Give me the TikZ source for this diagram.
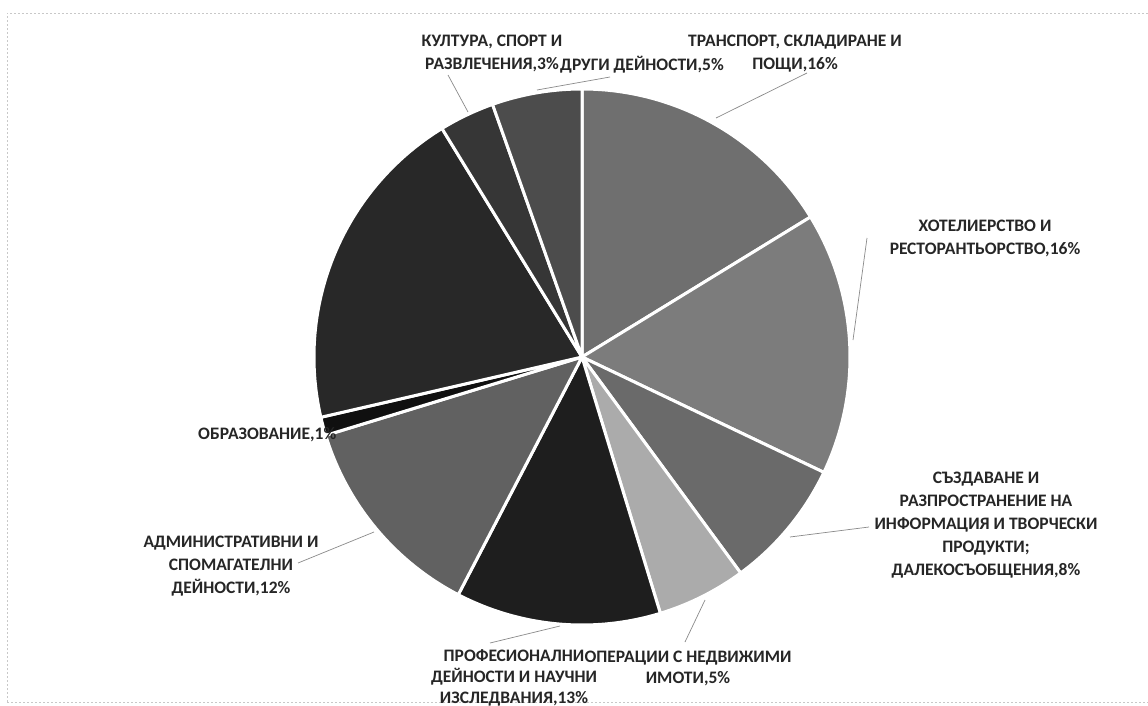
\documentclass[tikz,border=0pt]{standalone}
\usepackage{fontspec}
\setmainfont{Carlito}
\definecolor{cTrans}{HTML}{6F6F6F}
\definecolor{cHotel}{HTML}{7C7C7C}
\definecolor{cSazd}{HTML}{6A6A6A}
\definecolor{cOper}{HTML}{ABABAB}
\definecolor{cProf}{HTML}{1E1E1E}
\definecolor{cAdmin}{HTML}{616161}
\definecolor{cObraz}{HTML}{101010}
\definecolor{cBig}{HTML}{282828}
\definecolor{cKult}{HTML}{363636}
\definecolor{cDrugi}{HTML}{4C4C4C}
\definecolor{cText}{HTML}{262626}
\definecolor{cLead}{HTML}{8A8A8A}
\definecolor{cFrame}{HTML}{C8C8C8}
\tikzset{
  slicestyle/.style={draw=white,line width=3,line join=round},
  lbl/.style={inner sep=0pt,align=center,text=cText,font=\fontsize{17.5}{23}\selectfont\bfseries},
  lbltight/.style={lbl,font=\fontsize{17.5}{21}\selectfont\bfseries},
  leader/.style={draw=cLead,line width=0.7},
  framestyle/.style={draw=cFrame,line width=0.6,dash pattern=on 2pt off 2pt}
}
\newcommand\pieslice[3]{\filldraw[slicestyle,fill=#3] (C) -- ++(#1:268) arc[start angle=#1, end angle=#2, radius=268] -- cycle;}
\begin{document}
\begin{tikzpicture}[x=1pt,y=-1pt]
\useasboundingbox (0,0) rectangle (1148,706);
\fill[white] (0,0) rectangle (1148,706);
% faint frame
\draw[framestyle] (7,702) -- (7,13) -- (1148,13);
\draw[framestyle] (7,702) -- (1148,702);
% pie
\coordinate (C) at (582,357);
\pieslice{-90}{-31.5}{cTrans}
\pieslice{-31.5}{25.5}{cHotel}
\pieslice{25.5}{53.7}{cSazd}
\pieslice{53.7}{73}{cOper}
\pieslice{73}{117.5}{cProf}
\pieslice{117.5}{163}{cAdmin}
\pieslice{163}{167}{cObraz}
\pieslice{167}{238.5}{cBig}
\pieslice{238.5}{250.5}{cKult}
\pieslice{250.5}{270}{cDrugi}
% labels
\node[lbl] (kult) at (492,53.5) {КУЛТУРА, СПОРТ И\\РАЗВЛЕЧЕНИЯ,3\%};
\node[lbl] (drugi) at (642,65) {ДРУГИ ДЕЙНОСТИ,5\%};
\node[lbl] (trans) at (795,53.5) {ТРАНСПОРТ, СКЛАДИРАНЕ И\\ПОЩИ,16\%};
\node[lbl] (hotel) at (985,238) {ХОТЕЛИЕРСТВО И\\РЕСТОРАНТЬОРСТВО,16\%};
\node[lbl] (sazd) at (986,525) {СЪЗДАВАНЕ И\\РАЗПРОСТРАНЕНИЕ НА\\ИНФОРМАЦИЯ И ТВОРЧЕСКИ\\ПРОДУКТИ;\\ДАЛЕКОСЪОБЩЕНИЯ,8\%};
\node[lbltight] (oper) at (688,668.5) {ОПЕРАЦИИ С НЕДВИЖИМИ\\ИМОТИ,5\%};
\node[lbltight] (prof) at (514,677.5) {ПРОФЕСИОНАЛНИ\\ДЕЙНОСТИ И НАУЧНИ\\ИЗСЛЕДВАНИЯ,13\%};
\node[lbl] (admin) at (231,566) {АДМИНИСТРАТИВНИ И\\СПОМАГАТЕЛНИ\\ДЕЙНОСТИ,12\%};
\node[lbl,anchor=west] (obraz) at (198,435) {ОБРАЗОВАНИЕ,1\%};
% leader ends
\coordinate (kultA) at (468,112);  \coordinate (kultB) at (448,75);
\coordinate (drugiA) at (537,90);  \coordinate (drugiB) at (610,77);
\coordinate (transA) at (716,118); \coordinate (transB) at (807,73);
\coordinate (hotelA) at (853,340); \coordinate (hotelB) at (867,238);
\coordinate (sazdA) at (790,537);  \coordinate (sazdB) at (869,527);
\coordinate (operA) at (705,600);  \coordinate (operB) at (685,642);
\coordinate (profA) at (560,626);  \coordinate (profB) at (490,643);
\coordinate (adminA) at (374,532); \coordinate (adminB) at (298,563);
\draw[leader] (kultA) -- (kultB);
\draw[leader] (drugiA) -- (drugiB);
\draw[leader] (transA) -- (transB);
\draw[leader] (hotelA) -- (hotelB);
\draw[leader] (sazdA) -- (sazdB);
\draw[leader] (operA) -- (operB);
\draw[leader] (profA) -- (profB);
\draw[leader] (adminA) -- (adminB);
\end{tikzpicture}
\end{document}
